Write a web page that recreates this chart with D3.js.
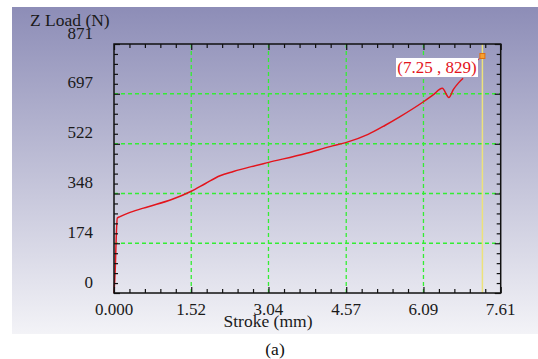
<!DOCTYPE html>
<html>
<head>
<meta charset="utf-8">
<script src="https://cdn.jsdelivr.net/npm/d3@7"></script>
<style>
  body { margin: 0; background: #fff; }
</style>
</head>
<body>
<div id="chart"></div>
<script>
// stroke (mm) vs Z load (N)
const stroke = [0, 0.026, 0.04, 0.065, 0.118, 0.315, 0.675, 1.135, 1.52, 1.8, 2.086, 2.35, 2.7, 3.045, 3.79, 4.25, 4.56, 5.0, 5.33, 5.63, 6.09, 6.28, 6.46, 6.59, 6.68, 6.78, 6.87];
const load   = [0, 91, 175, 262, 267, 282, 302, 327, 356, 383, 410, 425, 442, 457, 489, 512, 526, 555, 586, 617, 669, 693, 716, 684, 712, 735, 751];

const xTicks = [0, 1.52, 3.04, 4.57, 6.09, 7.61];
const xTickLabels = ["0.000", "1.52", "3.04", "4.57", "6.09", "7.61"];
const yTicks = [0, 174, 348, 522, 697, 871];
const yTickLabels = ["0", "174", "348", "522", "697", "871"];

const cursorX = 7.25;
const cursorY = 829;
const cursorLabel = "(7.25 , 829)";

const W = 538, H = 359;
const plot = { left: 114, right: 500.7, top: 44, bottom: 293 };
const serif = "'Liberation Serif', 'Times New Roman', serif";

const svg = d3.select("#chart").append("svg")
    .attr("width", W)
    .attr("height", H)
    .attr("font-family", serif);

const defs = svg.append("defs");
const grad = defs.append("linearGradient")
    .attr("id", "panel-bg")
    .attr("x1", "0%").attr("y1", "0%")
    .attr("x2", "0%").attr("y2", "100%");
grad.append("stop").attr("offset", "0%").attr("stop-color", "#8d8db7");
grad.append("stop").attr("offset", "100%").attr("stop-color", "#f3f3f7");

svg.append("rect")
    .attr("x", 12).attr("y", 7)
    .attr("width", W - 12).attr("height", 327)
    .attr("fill", "url(#panel-bg)");

const x = d3.scaleLinear().domain([0, 7.61]).range([plot.left, plot.right]);
const y = d3.scaleLinear().domain([0, 871]).range([plot.bottom, plot.top]);

// minor ticks: 5 steps between majors
const minor = (ticks) => {
    const out = [];
    for (let i = 0; i < ticks.length - 1; i++) {
        const step = (ticks[i + 1] - ticks[i]) / 5;
        for (let k = 1; k < 5; k++) out.push(ticks[i] + step * k);
    }
    return out;
};

// grid
const grid = svg.append("g")
    .attr("stroke", "#33ee33")
    .attr("stroke-width", 1.3)
    .attr("stroke-dasharray", "4,3");
grid.selectAll(".gx").data(xTicks.slice(1, -1)).join("line")
    .attr("x1", d => x(d)).attr("x2", d => x(d))
    .attr("y1", plot.top).attr("y2", plot.bottom);
grid.selectAll(".gy").data(yTicks.slice(1, -1)).join("line")
    .attr("x1", plot.left).attr("x2", plot.right)
    .attr("y1", d => y(d)).attr("y2", d => y(d));

// yellow cursor line
svg.append("line")
    .attr("x1", x(cursorX)).attr("x2", x(cursorX))
    .attr("y1", plot.top).attr("y2", plot.bottom)
    .attr("stroke", "#ece27a")
    .attr("stroke-width", 1.5);

// curve
const pts = stroke.map((s, i) => [s, load[i]]);
svg.append("path")
    .datum(pts)
    .attr("fill", "none")
    .attr("stroke", "#e3141c")
    .attr("stroke-width", 1.5)
    .attr("stroke-linejoin", "round")
    .attr("d", d3.line().x(d => x(d[0])).y(d => y(d[1])).curve(d3.curveMonotoneX));

// frame + inward ticks on all sides
const drawAxis = (axisFn, scale, ticks, len, transform) => {
    const g = svg.append("g").attr("transform", transform);
    g.call(axisFn(scale).tickValues(ticks).tickSize(-len).tickFormat(""));
    g.select(".domain").remove();
    g.selectAll("line").attr("stroke", "#111").attr("stroke-width", 1.2);
};
[[d3.axisBottom, x, xTicks, `translate(0,${plot.bottom})`],
 [d3.axisTop, x, xTicks, `translate(0,${plot.top})`],
 [d3.axisLeft, y, yTicks, `translate(${plot.left},0)`],
 [d3.axisRight, y, yTicks, `translate(${plot.right},0)`]]
.forEach(([fn, sc, maj, tr]) => {
    drawAxis(fn, sc, maj, 6, tr);
    drawAxis(fn, sc, minor(maj), 4, tr);
});

svg.append("rect")
    .attr("x", plot.left).attr("y", plot.top)
    .attr("width", plot.right - plot.left)
    .attr("height", plot.bottom - plot.top)
    .attr("fill", "none")
    .attr("stroke", "#111")
    .attr("stroke-width", 1.5);

// tick labels
svg.selectAll(".xl").data(xTicks).join("text")
    .attr("x", d => x(d))
    .attr("y", 315)
    .attr("text-anchor", "middle")
    .attr("font-size", 17)
    .attr("fill", "#1a1a1a")
    .text((d, i) => xTickLabels[i]);

svg.selectAll(".yl").data(yTicks).join("text")
    .attr("x", 93)
    .attr("y", d => y(d) - 5.5)
    .attr("text-anchor", "end")
    .attr("font-size", 17)
    .attr("fill", "#1a1a1a")
    .text((d, i) => yTickLabels[i]);

// axis titles
svg.append("text")
    .attr("x", 30).attr("y", 26)
    .attr("font-size", 17.5)
    .attr("fill", "#1a1a1a")
    .text("Z Load (N)");

svg.append("text")
    .attr("x", 268).attr("y", 327)
    .attr("text-anchor", "middle")
    .attr("font-size", 17.5)
    .attr("fill", "#1a1a1a")
    .text("Stroke (mm)");

svg.append("text")
    .attr("x", 275).attr("y", 355)
    .attr("text-anchor", "middle")
    .attr("font-size", 17.5)
    .attr("fill", "#111")
    .text("(a)");

// cursor readout
const cx = x(cursorX), cy = y(cursorY);
svg.append("line")
    .attr("x1", 476).attr("x2", cx)
    .attr("y1", 62).attr("y2", cy)
    .attr("stroke", "#e3141c")
    .attr("stroke-width", 1)
    .attr("stroke-dasharray", "2,1");
svg.append("rect")
    .attr("x", 396).attr("y", 58)
    .attr("width", 82).attr("height", 19)
    .attr("fill", "#fff");
svg.append("text")
    .attr("x", 437).attr("y", 73)
    .attr("text-anchor", "middle")
    .attr("font-size", 17)
    .attr("fill", "#e3141c")
    .text(cursorLabel);
svg.append("rect")
    .attr("x", cx - 2.5).attr("y", cy - 2.5)
    .attr("width", 5).attr("height", 5)
    .attr("fill", "#f7a030")
    .attr("stroke", "#e07010")
    .attr("stroke-width", 1);
</script>
</body>
</html>
